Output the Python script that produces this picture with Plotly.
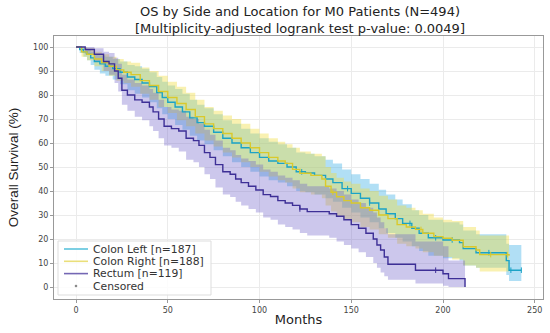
import numpy as np
import plotly.graph_objects as go

# ---------------- data ----------------
left_t = [0, 2, 4, 6, 8, 10, 13, 16, 20, 24, 28, 32, 36, 40, 44, 47, 50, 54, 58, 62, 66, 70, 75, 80, 85, 90, 95, 100,
          105, 110, 115, 120, 125, 130, 136, 140, 145, 150, 155, 160, 165, 169, 174, 178, 183, 187, 192, 200, 209, 211,
          218, 234.5, 236, 242.7]
left_s = [100, 99, 98, 97, 95.5, 94, 93, 92, 91, 89.5, 87.5, 86.5, 85, 83.5, 81, 79, 77, 75, 73, 70.5, 68.5, 67, 64.5,
          62, 60, 58, 56, 54, 52.5, 51.5, 50, 48, 47.5, 46.5, 45, 43.5, 41, 39, 37, 35, 32.5, 30.5, 28.5, 26.5, 24.5,
          22.4, 20.5, 19.6, 18.5, 16, 14.3, 11, 7, 7]
left_lo = [100, 97.5, 96, 94.5, 92.5, 90.5, 89, 88, 86.5, 84.5, 82, 80.5, 79, 77, 74.5, 72, 70, 67.5, 65.5, 63, 61,
           59.5, 57, 54.5, 52, 50, 48, 46, 44.5, 43.5, 42, 40, 39.5, 38.5, 37, 35.5, 33, 31, 29, 27, 24.5, 22.5, 20.5,
           19, 17, 15, 13, 12, 11, 9, 8, 5, 2.5, 2.5]
left_hi = [100, 100, 99.5, 99, 98, 97, 96.5, 96, 95, 94, 92.5, 92, 91, 89.5, 87.5, 85.5, 84, 82.5, 80.5, 78, 76, 74.5,
           72, 69.5, 68, 66, 64, 62, 60.5, 59.5, 58, 56, 55.5, 54.5, 53, 51.5, 49, 47, 45, 43, 40.5, 38.5, 36.5, 34.5,
           32, 30, 28, 27, 26, 23.5, 22, 18, 17.5, 17.5]
left_cens = [123, 148, 160, 182, 196, 205, 225, 237, 242.7]

right_t = [0, 3, 6, 10, 14, 18, 22, 26, 30, 35, 40, 45, 50, 55, 60, 65, 70, 75, 80, 85, 90, 95, 100, 105, 110, 114,
           118, 122, 128, 134, 136, 139, 142, 146, 150, 155, 160, 165, 170, 175, 180, 185, 189, 195, 200, 205, 211,
           218, 220, 236]
right_s = [100, 98, 97, 95, 93.5, 92, 90.5, 89.5, 88.5, 86, 84, 81.5, 79, 76.5, 74, 71, 68, 66, 64, 62, 60, 58, 56, 54,
           52.5, 51.5, 49, 47.4, 46.5, 45, 42, 39.5, 37.6, 36, 35, 33, 32, 30, 28.5, 26, 25, 24, 22.4, 21, 20.3, 19.5,
           16.8, 15.4, 13.5, 13]
right_lo = [100, 96, 94.5, 92, 90, 88, 86, 85, 83.5, 80.5, 78, 75, 72.5, 69.5, 67, 64, 61, 58.5, 56, 54, 52, 50, 48, 46,
            44.5, 43.5, 41, 39.5, 38.5, 37, 34, 31.5, 29.5, 28, 27, 25, 24, 22, 20.5, 18, 17, 16, 14.5, 13, 12.5, 11.5,
            9, 8, 6.5, 6]
right_hi = [100, 100, 99.5, 98, 97, 96, 95, 94, 93.5, 91.5, 90, 88, 85.5, 83.5, 81, 78, 75, 73.5, 71.5, 70, 68, 66, 64,
            62, 60.5, 59.5, 58, 56.5, 55.5, 54.5, 50, 47.5, 45.5, 44, 43, 41, 40, 38, 36.5, 34, 33, 32, 30.5, 29, 28,
            27.5, 25, 23.5, 21.5, 21]
right_cens = [140, 188, 226, 235]

rect_t = [0, 5, 10, 15, 18, 21, 23, 25, 28, 32, 36, 40, 42, 45, 48, 52, 56, 60, 64, 67, 70, 73, 76, 80, 84, 87, 90, 94,
          98, 102, 106, 110, 114, 118, 122, 126, 138, 142, 146, 150, 154, 158, 162, 164, 166, 168, 170, 185, 200, 203,
          212]
rect_s = [100, 99, 97, 94, 93, 90, 87, 82, 80, 78, 77, 75, 73, 70, 67, 66, 65, 62, 61, 59, 56, 54, 51, 48, 47, 45, 43.5,
          42, 40.4, 38.5, 37.7, 36, 35, 34, 32.5, 31.4, 30.5, 29.5, 28, 26, 24.5, 22.4, 20, 17.5, 15.4, 12.5, 9.5, 7,
          5.5, 3.5, 0]
rect_lo = [100, 97, 94, 90, 88.5, 85, 81.5, 76, 73.5, 71, 69.5, 67, 65, 62, 59, 58, 56.5, 53, 52, 50, 47, 45, 41.5,
           38.5, 37.5, 35.5, 34, 32.5, 31, 29, 28, 26, 25, 24, 22.5, 21.5, 20.5, 19, 17.5, 16, 14.5, 12.5, 10, 8, 6,
           4.5, 3, 1.5, 0.5, 0, 0]
rect_hi = [100, 100, 99.5, 98, 97.5, 95.5, 93, 88.5, 86.5, 85, 84, 82.5, 81, 78, 75, 74, 73.5, 71, 70, 68, 65.5, 63.5,
           61, 58, 57, 55, 53.5, 52.5, 51, 49, 48, 46.5, 45.5, 44.5, 43, 42, 41, 40, 38.5, 36.5, 35, 33, 31, 29, 27,
           24.5, 22, 19, 17, 11, 11]
rect_cens = [122, 196]

names = ["Colon Left [n=187]", "Colon Right [n=188]", "Rectum [n=119]"]
censored_label = "Censored"
title_text = "OS by Side and Location for M0 Patients (N=494)<br>[Multiplicity-adjusted logrank test p-value: 0.0049]"
x_ticks = [0, 50, 100, 150, 200, 250]
y_ticks = [0, 10, 20, 30, 40, 50, 60, 70, 80, 90, 100]

# ---------------- styling ----------------
W, H = 550, 333
ML, MR, MT, MB = 54, 7, 36, 34
PW, PH = W - ML - MR, H - MT - MB

line_cols = ["#1ba3c6", "#d9c92c", "#3d2f96"]
legend_cols = ["#5cc3dd", "#eadf7a", "#7467b4"]
band_cols = ["rgba(60,175,230,0.40)", "rgba(240,220,60,0.40)", "rgba(110,95,200,0.35)"]


def px(x):
    return (x - ML) / PW


def py(y):
    return (H - MB - y) / PH


series = [
    (left_t, left_s, left_lo, left_hi, left_cens),
    (right_t, right_s, right_lo, right_hi, right_cens),
    (rect_t, rect_s, rect_lo, rect_hi, rect_cens),
]

fig = go.Figure()

# confidence bands
for i, (t, s, lo, hi, c) in enumerate(series):
    fig.add_trace(go.Scatter(x=t, y=lo, mode="lines", line=dict(width=0, shape="hv"),
                             showlegend=False, hoverinfo="skip"))
    fig.add_trace(go.Scatter(x=t, y=hi, mode="lines", line=dict(width=0, shape="hv"),
                             fill="tonexty", fillcolor=band_cols[i], showlegend=False, hoverinfo="skip"))

# survival step lines + censor marks
for i, (t, s, lo, hi, c) in enumerate(series):
    fig.add_trace(go.Scatter(x=t, y=s, mode="lines", line=dict(color=line_cols[i], width=1.4, shape="hv"),
                             name=names[i], showlegend=False))
    ta = np.array(t)
    sa = np.array(s)
    idx = np.searchsorted(ta, np.array(c), side="right") - 1
    fig.add_trace(go.Scatter(x=c, y=sa[idx], mode="markers",
                             marker=dict(symbol="line-ns", size=4, line=dict(color=line_cols[i], width=1)),
                             showlegend=False))

# compact legend (matplotlib-like spacing)
shapes = [dict(type="rect", xref="paper", yref="paper", x0=px(58), x1=px(211), y0=py(295), y1=py(241),
               line=dict(color="#dddddd", width=1), fillcolor="rgba(255,255,255,0.85)", layer="above")]
annotations = []
labels = names + [censored_label]
row_y = [249, 261.3, 273.6, 286]
for i, lab in enumerate(labels):
    yy = py(row_y[i])
    if i < 3:
        shapes.append(dict(type="line", xref="paper", yref="paper", x0=px(64), x1=px(88), y0=yy, y1=yy,
                           line=dict(color=legend_cols[i], width=1.6), layer="above"))
    else:
        shapes.append(dict(type="circle", xref="paper", yref="paper", x0=px(75), x1=px(77), y0=py(287), y1=py(285),
                           line=dict(color="#777", width=0.5), fillcolor="#777", layer="above"))
    annotations.append(dict(text=lab, xref="paper", yref="paper", x=px(91), y=yy, xanchor="left", yanchor="middle",
                            showarrow=False, font=dict(family="DejaVu Sans", size=10.8, color="#333")))

# two-line title
annotations.append(dict(text=title_text, xref="paper", yref="paper", x=px(300), y=py(19.5),
                        xanchor="center", yanchor="middle", showarrow=False, align="center",
                        font=dict(family="DejaVu Sans", size=13, color="#222")))

fig.update_layout(
    width=W, height=H,
    margin=dict(l=ML, r=MR, t=MT, b=MB, autoexpand=False),
    paper_bgcolor="white", plot_bgcolor="white",
    font=dict(family="DejaVu Sans", color="#333"),
    showlegend=False,
    shapes=shapes, annotations=annotations,
)
fig.update_xaxes(range=[-12, 254.5], tickvals=x_ticks, showgrid=True, gridcolor="#ebebeb", gridwidth=1,
                 zeroline=False, showline=True, linecolor="#999", linewidth=1, mirror=True, automargin=False,
                 ticks="outside", ticklen=3, tickcolor="#999", tickfont=dict(size=8, color="#444"),
                 title=dict(text="Months", font=dict(size=13, color="#222"), standoff=1))
fig.update_yaxes(range=[-5, 104.6], tickvals=y_ticks, showgrid=True, gridcolor="#ebebeb", gridwidth=1,
                 zeroline=False, showline=True, linecolor="#999", linewidth=1, mirror=True, automargin=False,
                 ticks="outside", ticklen=3, tickcolor="#999", tickfont=dict(size=8, color="#444"),
                 title=dict(text="Overall Survival (%)", font=dict(family="Liberation Sans", size=13.5, color="#222"),
                            standoff=11))

fig.write_html("out.html", config={"displayModeBar": False},
               post_script="document.body.style.margin='0';document.body.style.overflow='hidden';")
